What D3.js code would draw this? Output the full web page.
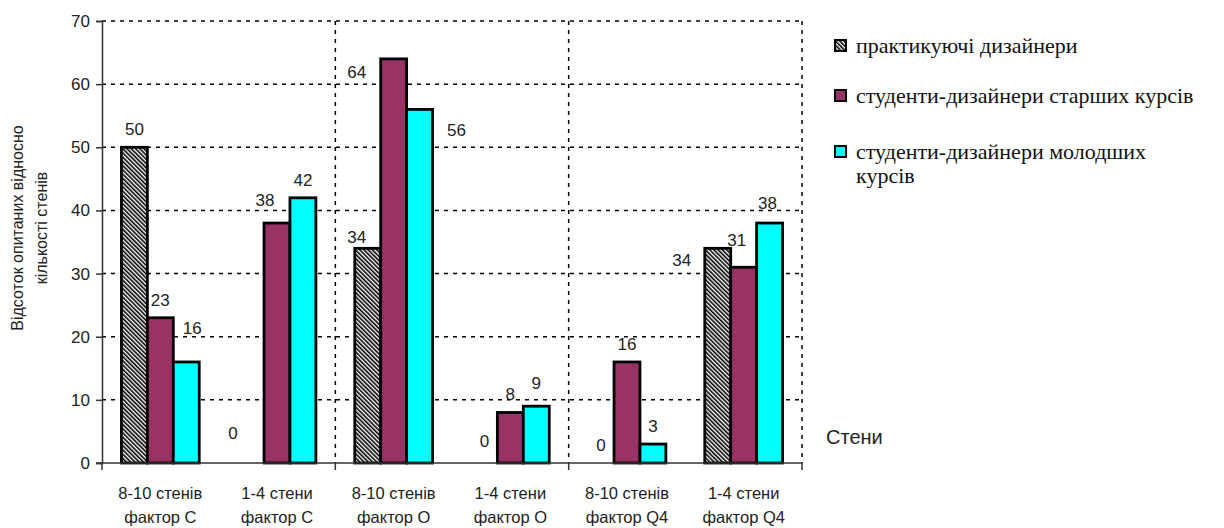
<!DOCTYPE html>
<html lang="uk">
<head>
  <meta charset="UTF-8">
  <title>Стени</title>
  <script src="https://d3js.org/d3.v7.min.js"></script>
  <style>
    body { margin: 0; background: #fff; }
    svg { display: block; }
    .sans { font-family: "Liberation Sans", Arial, sans-serif; fill: #222; }
    .serif { font-family: "Liberation Serif", "Times New Roman", serif; fill: #111; }
  </style>
</head>
<body>
<div id="chart"></div>
<script>
  const categories = [
    ["8-10 стенів", "фактор C"],
    ["1-4 стени", "фактор C"],
    ["8-10 стенів", "фактор O"],
    ["1-4 стени", "фактор O"],
    ["8-10 стенів", "фактор Q4"],
    ["1-4 стени", "фактор Q4"]
  ];
  const seriesNames = [
    "практикуючі дизайнери",
    "студенти-дизайнери старших курсів",
    "студенти-дизайнери молодших курсів"
  ];
  const practising = [50, 0, 34, 0, 0, 34];
  const seniors = [23, 38, 64, 8, 16, 31];
  const juniors = [16, 42, 56, 9, 3, 38];
  const yTicks = [0, 10, 20, 30, 40, 50, 60, 70];

  const series = [practising, seniors, juniors];
  const fills = ["url(#hatch)", "#993366", "#00ffff"];

  // labels that were dragged by hand in the original (series-category: [dx, dy])
  const labelNudge = {
    "2-0": [6, -16], "0-1": [-18, -12], "1-1": [-12, -5],
    "0-2": [-11, 7], "1-2": [-37, 31], "2-2": [37, 39],
    "0-3": [0, -4], "2-3": [0, -5],
    "0-5": [-36, 30], "1-5": [-7, -9], "2-5": [-2, -2]
  };

  const W = 1224, H = 528;
  const plot = { left: 102, right: 802, top: 21, bottom: 463 };

  const svg = d3.select("#chart").append("svg")
    .attr("width", W).attr("height", H);

  const defs = svg.append("defs");
  const pat = defs.append("pattern")
    .attr("id", "hatch")
    .attr("patternUnits", "userSpaceOnUse")
    .attr("width", 3).attr("height", 3)
    .attr("patternTransform", "rotate(-45)");
  pat.append("rect").attr("width", 3).attr("height", 3).attr("fill", "#fff");
  pat.append("rect").attr("width", 1.6).attr("height", 3).attr("fill", "#000");

  const x0 = d3.scaleBand()
    .domain(d3.range(categories.length))
    .range([plot.left, plot.right])
    .paddingInner(1 / 3)
    .paddingOuter(1 / 6);

  const x1 = d3.scaleBand()
    .domain(d3.range(series.length))
    .range([0, x0.bandwidth()]);

  const y = d3.scaleLinear()
    .domain([0, 70])
    .range([plot.bottom, plot.top]);

  const step = x0.step();

  // Gridlines
  svg.append("g")
    .selectAll("line")
    .data(yTicks.filter(d => d > 0))
    .join("line")
    .attr("x1", plot.left).attr("x2", plot.right)
    .attr("y1", d => y(d)).attr("y2", d => y(d))
    .attr("stroke", "#000").attr("stroke-width", 1.5)
    .attr("stroke-dasharray", "4,5");

  svg.append("g")
    .selectAll("line")
    .data([2, 4, 6])
    .join("line")
    .attr("x1", k => plot.left + k * step).attr("x2", k => plot.left + k * step)
    .attr("y1", plot.top).attr("y2", plot.bottom)
    .attr("stroke", "#000").attr("stroke-width", 1.5)
    .attr("stroke-dasharray", "4,5");

  // Bars
  const groups = svg.append("g")
    .selectAll("g")
    .data(categories)
    .join("g")
    .attr("transform", (d, i) => `translate(${x0(i)},0)`);

  groups.selectAll("rect")
    .data((d, i) => series.map((s, si) => ({ si, v: s[i] })))
    .join("rect")
    .filter(d => d.v > 0)
    .attr("x", d => x1(d.si))
    .attr("y", d => y(d.v))
    .attr("width", x1.bandwidth())
    .attr("height", d => y(0) - y(d.v))
    .attr("fill", d => fills[d.si])
    .attr("stroke", "#000")
    .attr("stroke-width", 2.8);

  // Value labels
  groups.selectAll("text")
    .data((d, i) => series.map((s, si) => ({ si, ci: i, v: s[i] })))
    .join("text")
    .attr("class", "sans")
    .attr("font-size", 17)
    .attr("text-anchor", "middle")
    .attr("x", d => x1(d.si) + x1.bandwidth() / 2 + (labelNudge[d.si + "-" + d.ci] || [0, 0])[0])
    .attr("y", d => y(d.v) - 12 + (labelNudge[d.si + "-" + d.ci] || [0, 0])[1])
    .text(d => d.v);

  // Y axis
  const yAxis = svg.append("g")
    .attr("transform", `translate(${plot.left},0)`)
    .call(d3.axisLeft(y).tickValues(yTicks).tickSize(6).tickPadding(6));
  yAxis.select(".domain").attr("stroke", "#333").attr("stroke-width", 1.5);
  yAxis.selectAll(".tick line").attr("stroke", "#333").attr("stroke-width", 1.5);
  yAxis.selectAll(".tick text")
    .attr("class", "sans")
    .attr("font-size", 17);

  // X axis
  svg.append("line")
    .attr("x1", plot.left - 6).attr("x2", plot.right)
    .attr("y1", plot.bottom).attr("y2", plot.bottom)
    .attr("stroke", "#333").attr("stroke-width", 1.5);
  svg.append("g")
    .selectAll("line")
    .data([0, 2, 4, 6])
    .join("line")
    .attr("x1", k => plot.left + k * step).attr("x2", k => plot.left + k * step)
    .attr("y1", plot.bottom).attr("y2", plot.bottom + 7)
    .attr("stroke", "#333").attr("stroke-width", 1.5);

  svg.append("g")
    .selectAll("text")
    .data(categories)
    .join("text")
    .attr("class", "sans")
    .attr("font-size", 16.5)
    .attr("text-anchor", "middle")
    .attr("x", (d, i) => x0(i) + x0.bandwidth() / 2)
    .attr("y", 499)
    .selectAll("tspan")
    .data(d => d)
    .join("tspan")
    .attr("x", function () { return this.parentNode.getAttribute("x"); })
    .attr("dy", (d, i) => i === 0 ? 0 : 24)
    .text(d => d);

  // Axis titles
  const yTitle = svg.append("text")
    .attr("class", "sans")
    .attr("font-size", 16)
    .attr("text-anchor", "middle")
    .attr("transform", "rotate(-90)");
  yTitle.append("tspan").attr("x", -228).attr("y", 23).text("Відсоток опитаних відносно");
  yTitle.append("tspan").attr("x", -228).attr("y", 47).text("кількості стенів");

  svg.append("text")
    .attr("class", "sans")
    .attr("font-size", 20)
    .attr("x", 826).attr("y", 444)
    .text("Стени");

  // Legend
  const legendRows = [
    { si: 0, lines: [seriesNames[0]], y: 53 },
    { si: 1, lines: [seriesNames[1]], y: 103 },
    { si: 2, lines: ["студенти-дизайнери молодших", "курсів"], y: 159 }
  ];
  const legend = svg.append("g");
  legend.selectAll("rect")
    .data(legendRows)
    .join("rect")
    .attr("x", 835).attr("y", d => d.y - 13)
    .attr("width", 11).attr("height", 11)
    .attr("fill", d => fills[d.si])
    .attr("stroke", "#000").attr("stroke-width", 2);
  legend.selectAll("text")
    .data(legendRows)
    .join("text")
    .attr("class", "serif")
    .attr("font-size", 22)
    .attr("x", 856)
    .attr("y", d => d.y)
    .selectAll("tspan")
    .data(d => d.lines)
    .join("tspan")
    .attr("x", 856)
    .attr("dy", (d, i) => i === 0 ? 0 : 24)
    .text(d => d);
</script>
</body>
</html>
